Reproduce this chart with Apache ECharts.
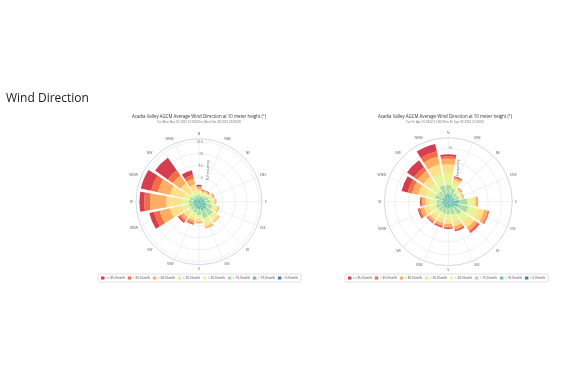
<!DOCTYPE html>
<html><head><meta charset="utf-8">
<script src="https://cdn.jsdelivr.net/npm/echarts@6/dist/echarts.min.js"></script>
<style>html,body{margin:0;padding:0;background:#fff}#c{width:569px;height:379px}</style>
</head><body><div id="c"></div>
<script>
const directions = ['N','NNE','NE','ENE','E','ESE','SE','SSE','S','SSW','SW','WSW','W','WNW','NW','NNW'];
const speedBins = ['< 5.0 km/h','< 10.0 km/h','< 15.0 km/h','< 20.0 km/h','< 25.0 km/h','< 30.0 km/h','< 35.0 km/h','>= 35.0 km/h'];
const legendOrder = ['>= 35.0 km/h','< 35.0 km/h','< 30.0 km/h','< 25.0 km/h','< 20.0 km/h','< 15.0 km/h','< 10.0 km/h','< 5.0 km/h'];
const binColors = ['#3288bd','#66c2a5','#abdda4','#e6f598','#fee08b','#fdae61','#f46d43','#d53e4f'];

// Winter period (left)
const winterLt5  = [0.3,0.3,0.3,0.3,0.3,0.3,0.3,0.3,0.3,0.3,0.3,0.3,0.3,0.3,0.3,0.3];
const winterLt10 = [0.6,0.6,0.7,0.9,1.0,1.3,1.6,1.6,1.3,1.1,1.0,0.9,0.9,0.8,0.6,0.6];
const winterLt15 = [0.6,0.5,0.6,0.8,1.0,1.3,1.7,1.7,1.2,1.0,0.9,1.0,0.9,0.8,0.6,0.6];
const winterLt20 = [0.6,0.5,0.5,0.6,0.7,0.8,1.0,1.2,0.8,0.9,0.9,1.5,1.5,1.3,1.0,0.9];
const winterLt25 = [0.5,0.3,0.3,0.4,0.4,0.5,0.5,0.6,0.5,0.7,0.9,2.5,3.2,3.0,2.2,1.3];
const winterLt30 = [0.4,0.2,0.2,0.2,0.15,0.2,0.2,0.2,0.3,0.5,0.7,2.2,3.4,2.6,2.0,1.2];
const winterLt35 = [0.2,0.1,0.1,0.05,0.05,0,0,0.1,0.1,0.3,0.4,1.2,1.2,1.4,1.3,0.8];
const winterGe35 = [0.3,0.1,0.1,0.05,0,0,0,0,0,0.1,0.3,1.0,1.0,2.2,3.2,1.0];

// Summer period (right)
const summerLt5  = [0.2,0.2,0.2,0.2,0.2,0.2,0.2,0.2,0.2,0.2,0.2,0.2,0.2,0.2,0.2,0.2];
const summerLt10 = [1.4,1.2,0.9,1.0,1.8,1.7,1.2,1.0,1.0,1.0,1.0,1.0,0.9,1.0,0.9,1.2];
const summerLt15 = [1.6,1.2,0.9,0.9,1.6,2.0,1.6,1.3,1.1,1.1,1.1,1.2,1.1,1.4,1.3,1.8];
const summerLt20 = [2.2,1.0,0.6,0.5,1.1,1.8,1.7,1.3,1.1,1.0,1.1,1.3,1.2,1.7,1.8,2.2];
const summerLt25 = [1.6,0.6,0.3,0.2,0.5,1.2,1.3,0.9,0.8,0.8,0.8,1.0,0.9,1.5,1.6,1.8];
const summerLt30 = [1.1,0.4,0.2,0.1,0.3,0.7,0.7,0.6,0.5,0.5,0.5,0.7,0.6,1.2,1.3,1.5];
const summerLt35 = [0.4,0.2,0.05,0.05,0.1,0.2,0.3,0.2,0.2,0.2,0.2,0.3,0.2,0.8,0.8,1.0];
const summerGe35 = [0.4,0.1,0.05,0.05,0,0.1,0.2,0.2,0.2,0.2,0.1,0.2,0.2,1.2,1.6,1.4];

const chartTitle = 'Acadia Valley AGCM Average Wind Direction at 10 meter height (°)';
const winterSub = 'For Mon Nov 01 2021 21:00:00 to Mon Feb 28 2022 23:00:00';
const summerSub = 'For Fri Apr 01 2022 21:00:00 to Fri Sep 30 2022 21:00:00';
const winterMax = 13.1, summerMax = 12;

const winterSets = [winterLt5,winterLt10,winterLt15,winterLt20,winterLt25,winterLt30,winterLt35,winterGe35];
const summerSets = [summerLt5,summerLt10,summerLt15,summerLt20,summerLt25,summerLt30,summerLt35,summerGe35];

const FONT = 'Open Sans';
const L = {c:[199,201.7], r:63};
const R = {c:[448.3,201.7], r:64};

function angleAxes(pBar, pGrid){
  return [
    {polarIndex:pBar, type:'category', data:directions, startAngle:101.25, boundaryGap:true, z:0,
     axisLine:{show:true, lineStyle:{color:'#ccd6eb', width:0.8}}, axisTick:{show:false},
     splitLine:{show:false},
     axisLabel:{show:true, fontSize:3.4, color:'#666', margin:3, fontFamily:FONT}},
    {polarIndex:pGrid, type:'category', data:directions, startAngle:90, boundaryGap:true, z:0,
     axisLine:{show:false}, axisTick:{show:false}, axisLabel:{show:false},
     splitLine:{show:true, lineStyle:{color:'#e6e6e6', width:0.6}}}
  ];
}
function radiusAxes(pBar, pGrid, max){
  return [
    {polarIndex:pBar, type:'value', min:0, max:max, show:false, splitLine:{show:false}, axisLabel:{show:false}},
    {polarIndex:pGrid, type:'value', min:0, max:max, interval:2.5, z:0,
     axisLine:{show:false}, axisTick:{show:false},
     splitLine:{show:true, lineStyle:{color:'#e6e6e6', width:0.6}},
     axisLabel:{show:true, fontSize:3.4, color:'#666', showMaxLabel:false, showMinLabel:false, margin:-4, fontFamily:FONT},
     name:'% Frequency', nameLocation:'middle', nameRotate:90, nameGap:-4,
     nameTextStyle:{fontSize:3.4, color:'#666', fontFamily:FONT}}
  ];
}
function seriesFor(sets, pIdx, stackName){
  return sets.map((arr,i)=>({
    type:'bar', coordinateSystem:'polar', polarIndex:pIdx, stack:stackName,
    name:speedBins[i], data:arr, barCategoryGap:'14%',
    itemStyle:{color:binColors[i]}, emphasis:{disabled:true}, z:3
  }));
}
function legendFor(left){
  return {data:legendOrder, left:left, top:274, orient:'horizontal', itemWidth:3.5, itemHeight:3, itemGap:3,
    icon:'rect', borderColor:'#ccc', borderWidth:0.6, borderRadius:2, padding:[2.5,3],
    textStyle:{fontSize:3.1, color:'#333', fontFamily:FONT, padding:[0,0,0,-3.5]}};
}

const chart = echarts.init(document.getElementById('c'), null, {renderer:'canvas'});
chart.setOption({
  animation:false,
  color:binColors,
  title:[
    {text:'Wind Direction', left:6, top:93, padding:0, textStyle:{fontSize:12, fontWeight:'normal', color:'#222', fontFamily:FONT}},
    {text:chartTitle, subtext:winterSub, left:199, textAlign:'center', top:114.5, itemGap:2, padding:0,
     textStyle:{fontSize:4.4, fontWeight:'normal', color:'#333', fontFamily:FONT},
     subtextStyle:{fontSize:3, color:'#666', fontFamily:FONT}},
    {text:chartTitle, subtext:summerSub, left:445, textAlign:'center', top:114.5, itemGap:2, padding:0,
     textStyle:{fontSize:4.4, fontWeight:'normal', color:'#333', fontFamily:FONT},
     subtextStyle:{fontSize:3, color:'#666', fontFamily:FONT}}
  ],
  legend:[legendFor(98), legendFor(345)],
  polar:[
    {center:L.c, radius:L.r},{center:L.c, radius:L.r},
    {center:R.c, radius:R.r},{center:R.c, radius:R.r}
  ],
  angleAxis:[...angleAxes(0,1), ...angleAxes(2,3)],
  radiusAxis:[...radiusAxes(0,1,winterMax), ...radiusAxes(2,3,summerMax)],
  series:[...seriesFor(winterSets,0,'winter'), ...seriesFor(summerSets,2,'summer')]
});
</script></body></html>
